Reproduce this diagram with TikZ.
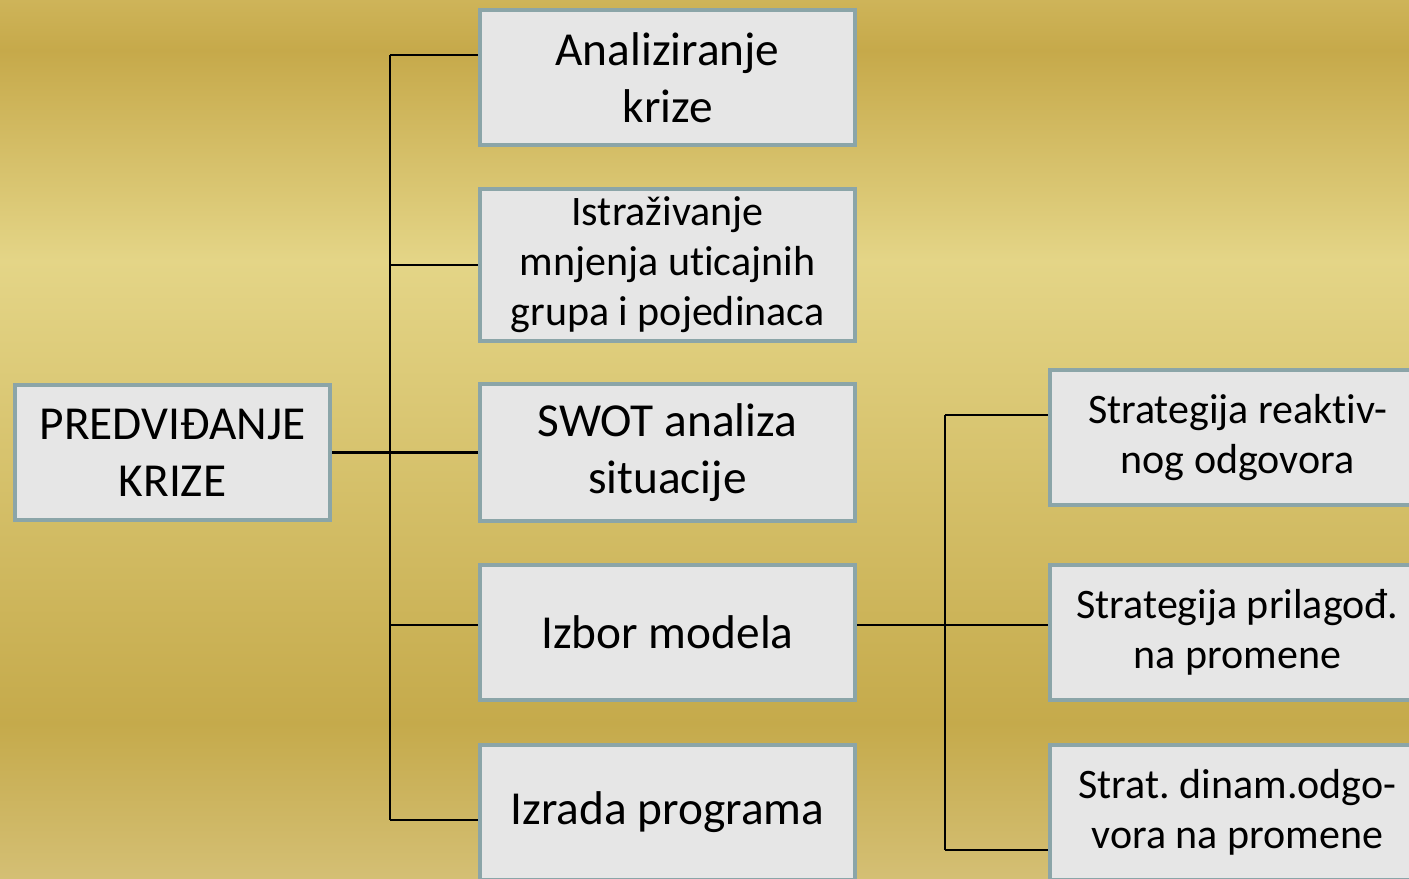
\documentclass[tikz,border=0pt]{standalone}
\usepackage{fontspec}
\setmainfont[RawFeature={-liga}]{Carlito}
\usepackage{xcolor}
\definecolor{goldtop}{HTML}{CEB459}
\definecolor{golddark}{HTML}{C6A94A}
\definecolor{goldlight}{HTML}{E4D587}
\definecolor{goldlow}{HTML}{C5AA4B}
\definecolor{goldbottom}{HTML}{D4BF74}
\definecolor{boxgray}{HTML}{E6E6E6}
\definecolor{boxedge}{HTML}{8BA5A8}
\frenchspacing

\begin{document}
\begin{tikzpicture}[x=0.75pt, y=-0.75pt,
    card/.style={rectangle, draw=boxedge, fill=boxgray, line width=3.6pt,
      minimum width=281.25pt, minimum height=101.25pt, inner sep=0pt,
      align=center, font=\fontsize{35.5}{43}\selectfont},
    smallcard/.style={card, font=\fontsize{31.5}{37.5}\selectfont},
    link/.style={line width=1.8pt, black}]

    \useasboundingbox (0,0) rectangle (1409,878);
    \clip (0,0) rectangle (1409,878);

    % background
    \shade[top color=goldtop, bottom color=golddark] (0,0) rectangle (1409,51);
    \shade[top color=golddark, bottom color=goldlight] (0,50) rectangle (1409,261);
    \shade[top color=goldlight, bottom color=goldlow] (0,260) rectangle (1409,724);
    \shade[top color=goldlow, bottom color=goldbottom] (0,723) rectangle (1409,878);

    \node (root) at (172.5, 452.5) [card, minimum width=236.25pt] {PREDVIĐANJE\\KRIZE};

    \node (b1) at (667.5, 77.5) [card] {Analiziranje\\krize};
    \node (b2) at (667.5, 265) [smallcard, minimum height=114pt] {Istraživanje\\mnjenja uticajnih\\grupa i pojedinaca};
    \node (b3) at (667.5, 452.5) [card, minimum height=102.75pt] {SWOT analiza\\situacije};
    \node (b4) at (667.5, 632.5) [card] {Izbor modela};
    \node (b5) at (667.5, 812.5) [card] {Izrada programa};

    \node (r1) at (1237.5, 437.5) [smallcard] {Strategija reaktiv-\\nog odgovora};
    \node (r2) at (1237.5, 632.5) [smallcard] {Strategija prilagođ.\\na promene};
    \node (r3) at (1237.5, 812.5) [smallcard] {Strat. dinam.odgo-\\vora na promene};

    \coordinate (j1) at (390, 55);
    \coordinate (j2) at (390, 265);
    \coordinate (j3) at (390, 452.5);
    \coordinate (j4) at (390, 625);
    \coordinate (j5) at (390, 820);

    \coordinate (k1) at (945, 415);
    \coordinate (k2) at (945, 625);
    \coordinate (k3) at (945, 850);

    \draw[link] (j1) -- (j5);
    \draw[link] (j1) -- (j1 -| b1.west);
    \draw[link] (j2) -- (j2 -| b2.west);
    \draw[link] (root.east) -- (b3.west);
    \draw[link] (j4) -- (j4 -| b4.west);
    \draw[link] (j5) -- (j5 -| b5.west);

    \draw[link] (k1) -- (k3);
    \draw[link] (k2 -| b4.east) -- (k2 -| r2.west);
    \draw[link] (k1) -- (k1 -| r1.west);
    \draw[link] (k3) -- (k3 -| r3.west);
\end{tikzpicture}
\end{document}
